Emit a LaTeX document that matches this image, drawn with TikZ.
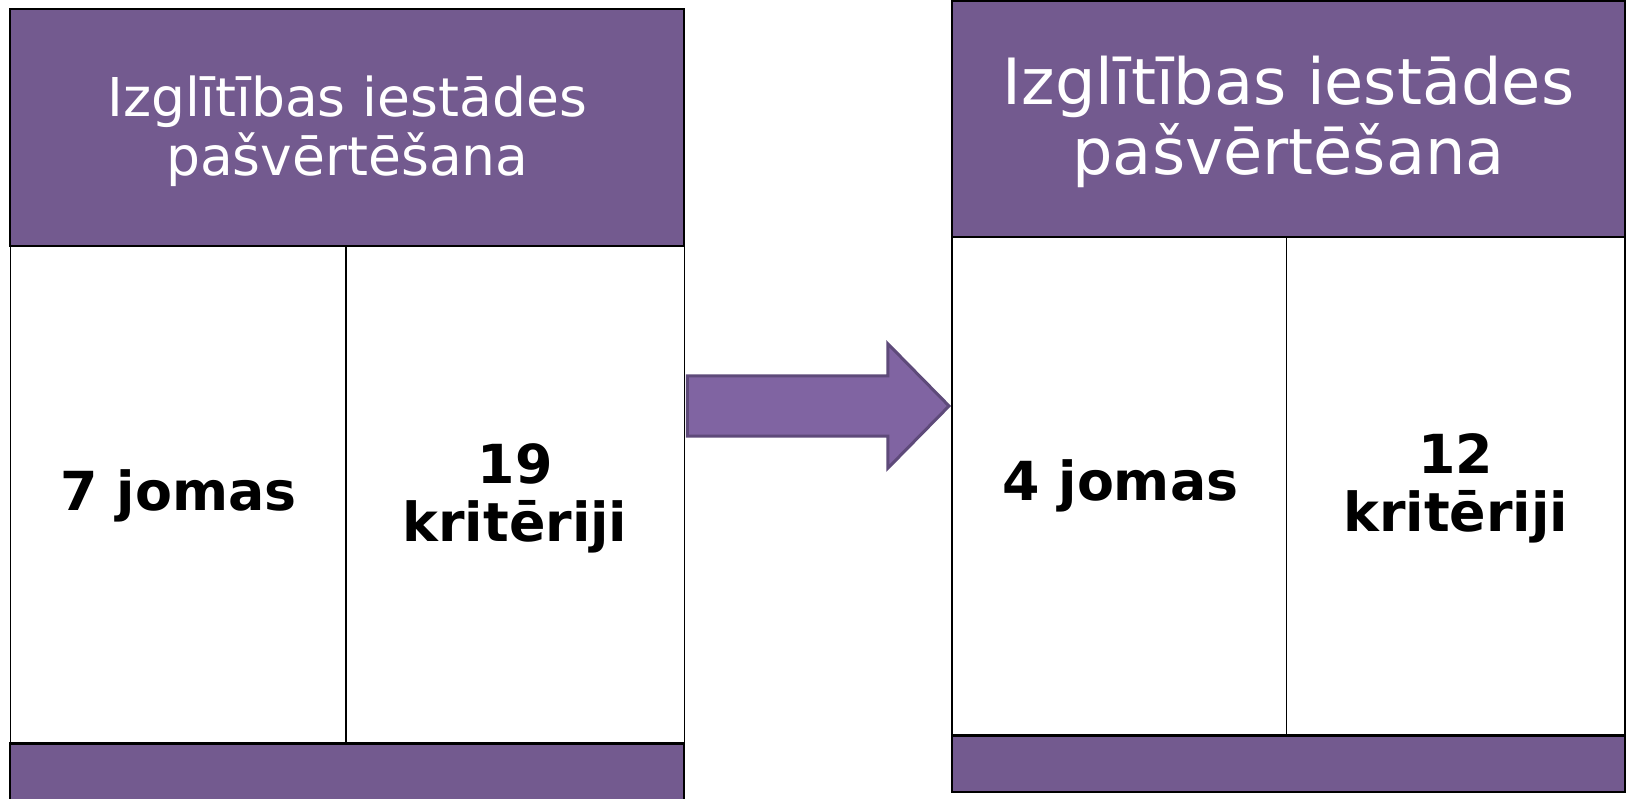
\documentclass[tikz,border=0pt]{standalone}
\usepackage{fontspec}
\setmainfont{DejaVu Sans}
\definecolor{hdr}{HTML}{735A8F}
\definecolor{arrfill}{HTML}{8064A2}
\definecolor{arrline}{HTML}{5E4A7A}
\begin{document}
\begin{tikzpicture}[x=1.0383pt,y=-1.0383pt,
  hdrbox/.style={fill=hdr,draw=black,line width=2pt},
  bodybox/.style={fill=white,draw=black,line width=1.5pt},
  hdrtextL/.style={text=white,align=center,font=\fontsize{53.5}{59}\selectfont},
  hdrtextR/.style={text=white,align=center,font=\fontsize{63.8}{70}\selectfont},
  celltext/.style={text=black,align=center,font=\bfseries\fontsize{53.8}{58}\selectfont},
  divider/.style={draw=black,line width=1.5pt}]
\useasboundingbox (0,0) rectangle (1567.9,768.55);
\fill[white] (0,0) rectangle (1567.9,768.55);
% ---------- left table ----------
\draw[bodybox] (10,237) rectangle (659,716);
\draw[divider] (333,237) -- (333,716);
\draw[hdrbox] (10,9) rectangle (659,237);
\draw[hdrbox] (10,716) rectangle (659,790);
\draw[black,line width=3pt] (10,716) -- (659,716);
\node[hdrtextL] (lhead) at (334.5,126) {Izglītības iestādes\\pašvērtēšana};
\node[celltext] (ljomas) at (172,478) {7 jomas};
\node[celltext] (lkrit) at (496,480) {19\\kritēriji};
% ---------- right table ----------
\draw[bodybox] (917,228) rectangle (1565,708);
\draw[divider] (1239,228) -- (1239,708);
\draw[hdrbox] (917,1) rectangle (1565,228);
\draw[hdrbox] (917,708) rectangle (1565,763);
\draw[black,line width=3pt] (917,708) -- (1565,708);
\node[hdrtextR] (rhead) at (1241,117) {Izglītības iestādes\\pašvērtēšana};
\node[celltext] (rjomas) at (1079,468) {4 jomas};
\node[celltext] (rkrit) at (1402,470) {12\\kritēriji};
% ---------- arrow ----------
\draw[fill=arrfill,draw=arrline,line width=3pt,line join=miter]
  (662,362) -- (855,362) -- (855,331) -- (914,391) -- (855,451) -- (855,420) -- (662,420) -- cycle;
\end{tikzpicture}
\end{document}
